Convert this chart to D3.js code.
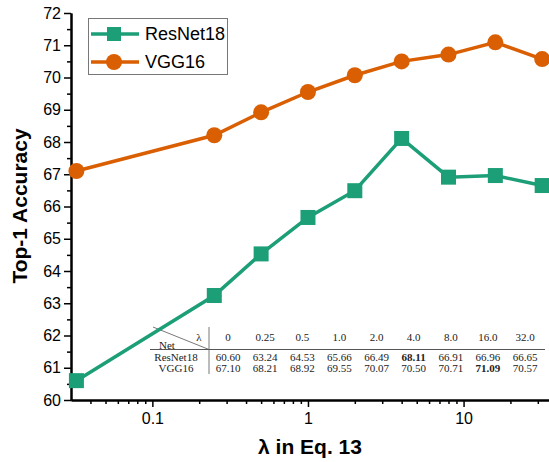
<!DOCTYPE html>
<html>
<head>
<meta charset="utf-8">
<script src="https://cdn.jsdelivr.net/npm/d3@7"></script>
<style>
  body { margin: 0; background: #fff; }
  svg { display: block; }
</style>
</head>
<body>
<div id="chart"></div>
<script>
// λ values; 0 is drawn at the left edge of the log axis
const lambdaLabels = ["0", "0.25", "0.5", "1.0", "2.0", "4.0", "8.0", "16.0", "32.0"];
const lambdaPos = [0.0325, 0.25, 0.5, 1, 2, 4, 8, 16, 32];
const resnet18 = [60.60, 63.24, 64.53, 65.66, 66.49, 68.11, 66.91, 66.96, 66.65];
const vgg16 = [67.10, 68.21, 68.92, 69.55, 70.07, 70.50, 70.71, 71.09, 70.57];
const resnetText = ["60.60", "63.24", "64.53", "65.66", "66.49", "68.11", "66.91", "66.96", "66.65"];
const vggText = ["67.10", "68.21", "68.92", "69.55", "70.07", "70.50", "70.71", "71.09", "70.57"];
const xMajor = [0.1, 1, 10];
const xMinor = [0.04, 0.05, 0.06, 0.07, 0.08, 0.09, 0.2, 0.3, 0.4, 0.5, 0.6, 0.7, 0.8, 0.9,
                2, 3, 4, 5, 6, 7, 8, 9, 20, 30];
const yMajor = [60, 61, 62, 63, 64, 65, 66, 67, 68, 69, 70, 71, 72];
const yMinor = [60.5, 61.5, 62.5, 63.5, 64.5, 65.5, 66.5, 67.5, 68.5, 69.5, 70.5, 71.5];

const W = 549, H = 462;
const green = "#1c9e77", orange = "#d95f02";

const svg = d3.select("#chart").append("svg")
    .attr("width", W).attr("height", H);

// 比例尺
const x = d3.scaleLog().domain([0.03, 35.4]).range([71, 549]);
const y = d3.scaleLinear().domain([60, 72]).range([400, 13]);

// 表格 (drawn first, under the lines)
const tbl = svg.append("g")
    .attr("font-family", "'Liberation Serif', 'Times New Roman', serif")
    .attr("font-size", 11)
    .attr("fill", "#222");
const colX = d3.scalePoint().domain(lambdaLabels).range([228, 525]);
tbl.append("line").attr("x1", 150).attr("x2", 545).attr("y1", 349.5).attr("y2", 349.5)
    .attr("stroke", "#555").attr("stroke-width", 1);
tbl.append("line").attr("x1", 209).attr("x2", 209).attr("y1", 327).attr("y2", 374)
    .attr("stroke", "#555").attr("stroke-width", 0.8);
tbl.append("line").attr("x1", 153).attr("x2", 209).attr("y1", 327).attr("y2", 349.5)
    .attr("stroke", "#555").attr("stroke-width", 0.8);
tbl.append("text").attr("x", 199).attr("y", 340.5).attr("text-anchor", "middle").text("λ");
tbl.append("text").attr("x", 167).attr("y", 348.5).attr("text-anchor", "middle").text("Net");
tbl.append("text").attr("x", 176).attr("y", 360.5).attr("text-anchor", "middle").text("ResNet18");
tbl.append("text").attr("x", 176).attr("y", 371.5).attr("text-anchor", "middle").text("VGG16");
tbl.selectAll(".hdr").data(lambdaLabels).enter().append("text")
    .attr("x", d => colX(d)).attr("y", 340.5).attr("text-anchor", "middle").text(d => d);
const bestR = d3.maxIndex(resnet18), bestV = d3.maxIndex(vgg16);
tbl.selectAll(".r1").data(resnetText).enter().append("text")
    .attr("x", (d, i) => colX(lambdaLabels[i])).attr("y", 360.5).attr("text-anchor", "middle")
    .attr("font-weight", (d, i) => i === bestR ? "bold" : null).text(d => d);
tbl.selectAll(".r2").data(vggText).enter().append("text")
    .attr("x", (d, i) => colX(lambdaLabels[i])).attr("y", 371.5).attr("text-anchor", "middle")
    .attr("font-weight", (d, i) => i === bestV ? "bold" : null).text(d => d);

// 轴
const font = "'Liberation Sans', Arial, sans-serif";
function styleAxis(g) {
    g.select(".domain").attr("stroke", "#000").attr("stroke-width", 2);
    g.selectAll(".tick line").attr("stroke", "#000").attr("stroke-width", 1.5);
    g.selectAll("text").attr("font-family", font).attr("font-size", 16).attr("fill", "#000");
}
svg.append("g").attr("transform", "translate(0,400)")
    .call(d3.axisBottom(x).tickValues(xMajor).tickFormat(d3.format("")).tickSize(7).tickSizeOuter(0).tickPadding(6))
    .call(styleAxis);
svg.append("g").attr("transform", "translate(0,400)")
    .call(d3.axisBottom(x).tickValues(xMinor).tickFormat("").tickSize(4).tickSizeOuter(0))
    .call(styleAxis);
svg.append("g").attr("transform", "translate(71,0)")
    .call(d3.axisLeft(y).tickValues(yMajor).tickSize(7).tickSizeOuter(0).tickPadding(3))
    .call(styleAxis);
svg.append("g").attr("transform", "translate(71,0)")
    .call(d3.axisLeft(y).tickValues(yMinor).tickFormat("").tickSize(4).tickSizeOuter(0))
    .call(styleAxis);

// 轴标题
svg.append("text").attr("x", 310).attr("y", 454).attr("text-anchor", "middle")
    .attr("font-family", font).attr("font-weight", "bold").attr("font-size", 21)
    .text("λ in Eq. 13");
svg.append("text").attr("transform", "translate(27,206) rotate(-90)").attr("text-anchor", "middle")
    .attr("font-family", font).attr("font-weight", "bold").attr("font-size", 21)
    .text("Top-1 Accuracy");

// 折线
const line = d3.line().x(d => x(d.l)).y(d => y(d.v));
const rData = lambdaPos.map((l, i) => ({l, v: resnet18[i]}));
const vData = lambdaPos.map((l, i) => ({l, v: vgg16[i]}));

svg.append("path").datum(vData).attr("d", line)
    .attr("fill", "none").attr("stroke", orange).attr("stroke-width", 3.5);
svg.selectAll(".vpt").data(vData).enter().append("circle")
    .attr("cx", d => x(d.l)).attr("cy", d => y(d.v)).attr("r", 8).attr("fill", orange);

svg.append("path").datum(rData).attr("d", line)
    .attr("fill", "none").attr("stroke", green).attr("stroke-width", 3.5);
svg.selectAll(".rpt").data(rData).enter().append("rect")
    .attr("x", d => x(d.l) - 7.5).attr("y", d => y(d.v) - 7.5)
    .attr("width", 15).attr("height", 15).attr("fill", green);

// 图例
const lg = svg.append("g");
lg.append("rect").attr("x", 88.5).attr("y", 18.5).attr("width", 139).attr("height", 56)
    .attr("fill", "#fff").attr("stroke", "#777").attr("stroke-width", 1);
const legendItems = [{name: "ResNet18", color: green, shape: "square", y: 34},
                     {name: "VGG16", color: orange, shape: "circle", y: 62}];
legendItems.forEach(it => {
    lg.append("line").attr("x1", 91).attr("x2", 139).attr("y1", it.y).attr("y2", it.y)
        .attr("stroke", it.color).attr("stroke-width", 3.5);
    if (it.shape === "square") {
        lg.append("rect").attr("x", 107).attr("y", it.y - 7).attr("width", 14).attr("height", 14)
            .attr("fill", it.color);
    } else {
        lg.append("circle").attr("cx", 114).attr("cy", it.y).attr("r", 8).attr("fill", it.color);
    }
    lg.append("text").attr("x", 145).attr("y", it.y).attr("dy", "0.35em")
        .attr("font-family", font).attr("font-size", 18).attr("fill", "#000").text(it.name);
});
</script>
</body>
</html>
